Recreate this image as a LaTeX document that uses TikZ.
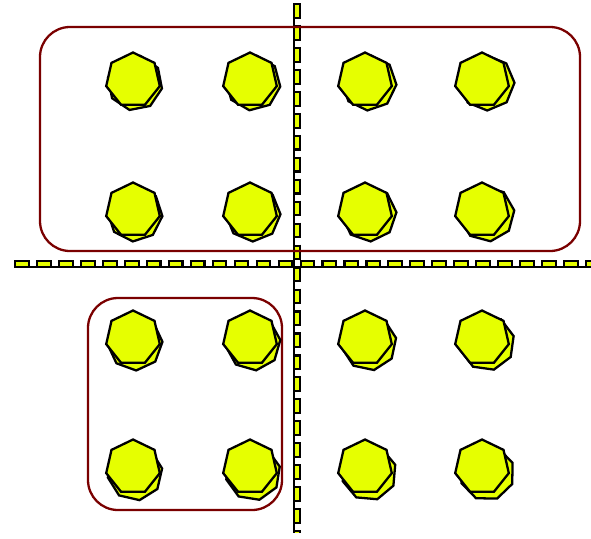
\documentclass[tikz,border=0pt]{standalone}
\usepackage{xcolor}
\usepackage{tikz}
\usetikzlibrary{shapes.geometric}

\definecolor{lemon}{HTML}{E6FF00}
\definecolor{maroonline}{HTML}{7A0000}

\begin{document}
\begin{tikzpicture}[
  x=0.02cm, y=-0.02cm,
  dot/.style={draw=black, fill=lemon, regular polygon, regular polygon sides=7, minimum size=1.1cm, inner sep=0pt, line width=1.3pt},
  backdot/.style={dot, regular polygon sides=8},
  axisout/.style={line width=4.8pt, dash pattern=on 9pt off 3.5pt},
  axisin/.style={lemon, line width=2.2pt, dash pattern=on 6.6pt off 5.9pt, dash phase=11.3pt},
  group/.style={draw=maroonline, line width=1.3pt, rounded corners=0.6cm}
]
  \useasboundingbox (0,0) rectangle (591,538);

  % axes
  \coordinate (west) at (14,264);
  \coordinate (east) at (591,264);
  \coordinate (north) at (297,3);
  \coordinate (south) at (297,533);
  \draw[line width=1.2pt] ([yshift=-1.8pt]west) -- ([yshift=-1.8pt]east);
  \draw[line width=1.2pt] ([xshift=-1.8pt]north) -- ([xshift=-1.8pt]south);
  \draw[axisout] (west) -- (east);
  \draw[axisin] (west) -- (east);
  \draw[axisout] (north) -- (south);
  \draw[axisin] (north) -- (south);

  % groups
  \draw[group] (40,27) rectangle (580,251);
  \draw[group] (88,298) rectangle (282,510);

  % points
  \foreach \x [count=\i] in {133,250,365,482} {
    \foreach \y [count=\j] in {80,210,338,467} {
      \node[backdot, rotate=4*\i+7*\j] (b-\i-\j) at (\x+1+\i,\y+2+\j) {};
      \node[dot] (p-\i-\j) at (\x,\y) {};
    }
  }
\end{tikzpicture}
\end{document}
